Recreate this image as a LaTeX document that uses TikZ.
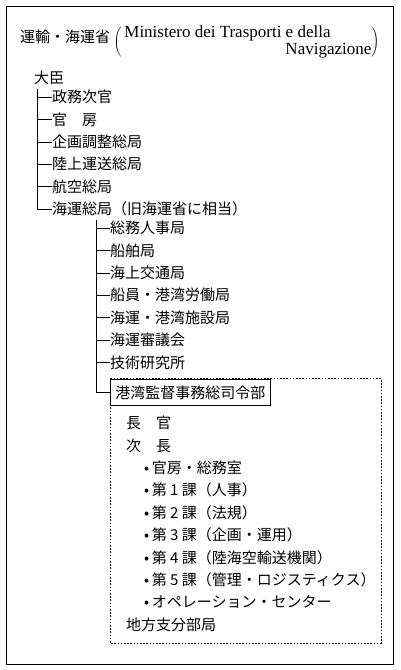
\documentclass[tikz,border=0pt]{standalone}
\usepackage{fontspec}
\setmainfont{Liberation Serif}
\newfontfamily\jp{Noto Sans CJK JP}
\usetikzlibrary{positioning, backgrounds}

\begin{document}
\begin{tikzpicture}[
  x=1pt, y=-1pt,
  font=\jp\fontsize{15}{17}\selectfont,
  item/.style={inner sep=0pt, minimum height=22pt, anchor=west},
  below item/.style={item, below=0pt of #1.south west, anchor=north west},
  hqbox/.style={draw, fill=white, line width=0.8pt, inner xsep=5pt, inner ysep=6.5pt},
  tree/.style={line width=0.6pt},
  frame/.style={line width=0.8pt},
  dotframe/.style={line width=0.7pt, dash pattern=on 1.6pt off 1.6pt}
]
\useasboundingbox (0,0) rectangle (400,670);

% title
\node[item] (ministry) at (20,37) {運輸・海運省};
\node[inner sep=0pt, font=\rmfamily\fontsize{17}{17}\selectfont,
      right=3pt of ministry, yshift=-5pt] (italian)
  {$\left(\,\vcenter{\hbox{\parbox{247pt}{\raggedright Ministero dei Trasporti e della\\
   \hspace*{\fill}Navigazione}}}\right)$};

% minister and first level
\node[item] (minister) at (34,78) {大臣};
\coordinate (t1) at ([xshift=3pt]minister.south west);
\node[item] (m1) at (52,97) {政務次官};
\node[below item=m1] (m2) {官　房};
\node[below item=m2] (m3) {企画調整総局};
\node[below item=m3] (m4) {陸上運送総局};
\node[below item=m4] (m5) {航空総局};
\node[below item=m5] (m6) {海運総局（旧海運省に相当）};

% second level
\coordinate (t2) at ([xshift=44pt]m6.south west);
\node[item] (s1) at (110,228) {総務人事局};
\node[below item=s1] (s2) {船舶局};
\node[below item=s2] (s3) {海上交通局};
\node[below item=s3] (s4) {船員・港湾労働局};
\node[below item=s4] (s5) {海運・港湾施設局};
\node[below item=s5] (s6) {海運審議会};
\node[below item=s6] (s7) {技術研究所};
\node[hqbox, below=5pt of s7.south west, anchor=north west] (hq) {港湾監督事務総司令部};

% inside the command
\node[item] (chief) at (126,423) {長　官};
\node[below item=chief] (deputy) {次　長};
\node[below item=deputy, xshift=18pt] (b1) {\textbullet\,官房・総務室};
\node[below item=b1] (b2) {\textbullet\,第 1 課（人事）};
\node[below item=b2] (b3) {\textbullet\,第 2 課（法規）};
\node[below item=b3] (b4) {\textbullet\,第 3 課（企画・運用）};
\node[below item=b4] (b5) {\textbullet\,第 4 課（陸海空輸送機関）};
\node[below item=b5] (b6) {\textbullet\,第 5 課（管理・ロジスティクス）};
\node[below item=b6] (b7) {\textbullet\,オペレーション・センター};
\node[below item=b7, xshift=-18pt] (local) {地方支分部局};
\coordinate (fse) at (381,643);

% connectors
\draw[tree] (t1) |- (m1.west);
\draw[tree] (t1) |- (m2.west);
\draw[tree] (t1) |- (m3.west);
\draw[tree] (t1) |- (m4.west);
\draw[tree] (t1) |- (m5.west);
\draw[tree] (t1) |- (m6.west);
\draw[tree] (t2) |- (s1.west);
\draw[tree] (t2) |- (s2.west);
\draw[tree] (t2) |- (s3.west);
\draw[tree] (t2) |- (s4.west);
\draw[tree] (t2) |- (s5.west);
\draw[tree] (t2) |- (s6.west);
\draw[tree] (t2) |- (s7.west);
\draw[tree] (t2) |- (hq.west);

\begin{scope}[on background layer]
  \draw[dotframe] (hq.north west) rectangle (fse);
\end{scope}
\draw[frame] (6,6) rectangle (393,664);

\end{tikzpicture}
\end{document}
